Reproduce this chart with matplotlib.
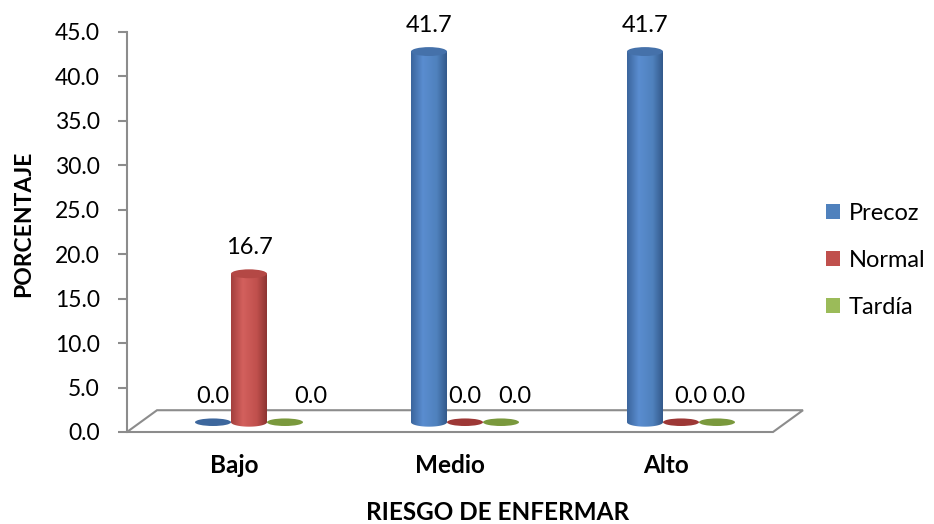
import numpy as np
import matplotlib
matplotlib.use("Agg")
import matplotlib.pyplot as plt
from matplotlib.patches import Ellipse, PathPatch, Polygon, Patch
from matplotlib.path import Path
from matplotlib.colors import LinearSegmentedColormap

plt.rcParams["font.family"] = ["Lato", "DejaVu Sans"]

# ---- data -------------------------------------------------------------
categories = ["Bajo", "Medio", "Alto"]
series_names = ["Precoz", "Normal", "Tardía"]
precoz = [0.0, 41.7, 41.7]
normal = [16.7, 0.0, 0.0]
tardia = [0.0, 0.0, 0.0]
y_ticks = [0, 5, 10, 15, 20, 25, 30, 35, 40, 45]

# ---- styling ----------------------------------------------------------
base_colors = ["#4F81BD", "#C0504D", "#9BBB59"]
# horizontal shading stops across a cylinder body (dark edge, highlight, dark edge)
body_stops = [
    ["#3B659C", "#5A8DD0", "#4F81BD", "#33598A"],
    ["#A33F3D", "#D3605D", "#C0504D", "#8C3432"],
    ["#7A9A3E", "#B0CF6C", "#9BBB59", "#6B8834"],
]
top_colors = ["#4571AA", "#B44845", "#86A54A"]
disk_colors = ["#3D679D", "#9D3836", "#7A993D"]
grey = "#8C8C8C"

fig = plt.figure(figsize=(9.34, 5.24), dpi=100)
W, H = 934, 524
ax = fig.add_axes([127 / W, (H - 432) / H, (805 - 127) / W, 400 / H])

cat_px = 216.0                     # pixels per category
x_left = -107 / cat_px
x_right = 571 / cat_px
ax.set_xlim(x_left, x_right)
ax.set_ylim(0, 45)

bar_w = 36 / cat_px                # cylinder diameter
depth_dx = 15 / cat_px             # cylinders sit halfway into the floor
depth_dy = 1.1
ry = 0.5                           # half-height of the elliptical caps
floor_dx = 30 / cat_px
floor_dy = 2.45

# floor of the 3-D plot area
floor = Polygon([(x_left, 0), (2 - x_left, 0),
                 (2 - x_left + floor_dx, floor_dy), (x_left + floor_dx, floor_dy)],
                closed=True, facecolor="white", edgecolor=grey, lw=1.5,
                clip_on=False, zorder=1)
ax.add_patch(floor)

# per-label horizontal nudges (pixels) keeping the zero labels apart
label_nudge = [[0, 0, 26], [0, 0, 14], [0, 10, 12]]

values = [precoz, normal, tardia]
grad = np.linspace(0, 1, 256).reshape(1, -1)
for s, vals in enumerate(values):
    cmap = LinearSegmentedColormap.from_list(
        f"cyl{s}", list(zip([0.0, 0.33, 0.72, 1.0], body_stops[s])))
    for c, v in enumerate(vals):
        cx = c + (s - 1) * bar_w + depth_dx
        x0, x1 = cx - bar_w / 2, cx + bar_w / 2
        y0 = depth_dy
        top = y0 + v
        if v > 0:
            t = np.linspace(np.pi, 2 * np.pi, 40)
            bottom = np.column_stack([cx + bar_w / 2 * np.cos(t), y0 + ry * np.sin(t)])
            upper = np.array([[x1, top], [x0, top], bottom[0]])
            verts = np.vstack([bottom, upper])
            codes = [Path.MOVETO] + [Path.LINETO] * (len(verts) - 2) + [Path.CLOSEPOLY]
            body = PathPatch(Path(verts, codes), facecolor="none", edgecolor="none")
            ax.add_patch(body)
            im = ax.imshow(grad, cmap=cmap, aspect="auto", zorder=3,
                           extent=[x0, x1, y0 - ry, top], interpolation="bilinear")
            im.set_clip_path(body)
            ax.add_patch(Ellipse((cx, top), bar_w, 2 * ry, facecolor=top_colors[s],
                                 edgecolor="none", zorder=4))
        else:
            ax.add_patch(Ellipse((cx, y0), bar_w, 2 * ry * 0.85, facecolor=disk_colors[s],
                                 edgecolor="none", zorder=3))
        ax.text(cx + label_nudge[c][s] / cat_px, top + 2.9, f"{v:.1f}",
                ha="center", va="center", fontsize=17, color="black", zorder=5)

ax.set_xlim(x_left, x_right)
ax.set_ylim(0, 45)

# axes styling
for side in ["top", "right", "bottom"]:
    ax.spines[side].set_visible(False)
ax.spines["left"].set_color(grey)
ax.spines["left"].set_linewidth(1.5)
ax.set_yticks(y_ticks)
ax.set_yticklabels([f"{t:.1f}" for t in y_ticks])
ax.tick_params(axis="y", length=6.5, width=1.5, color=grey, pad=13, labelsize=16.5)
ax.set_xticks(range(len(categories)))
ax.set_xticklabels(categories, fontweight="bold", fontsize=17.5)
ax.tick_params(axis="x", length=0, pad=16)
ax.patch.set_visible(False)

fig.text(24 / W, 1 - 224 / H, "PORCENTAJE", rotation=90, ha="center", va="center",
         fontsize=16.5, fontweight="bold")
fig.text(498 / W, 1 - 513 / H, "RIESGO DE ENFERMAR", ha="center", va="center",
         fontsize=17.5, fontweight="bold")

handles = [Patch(facecolor=col, edgecolor="none") for col in base_colors]
fig.legend(handles, series_names, loc="upper left",
           bbox_to_anchor=(826 / W, 1 - 203 / H), frameon=False, fontsize=17,
           handlelength=0.6, handleheight=0.6, handletextpad=0.35,
           labelspacing=1.1, borderpad=0, borderaxespad=0)

fig.savefig("out.png", dpi=100)
